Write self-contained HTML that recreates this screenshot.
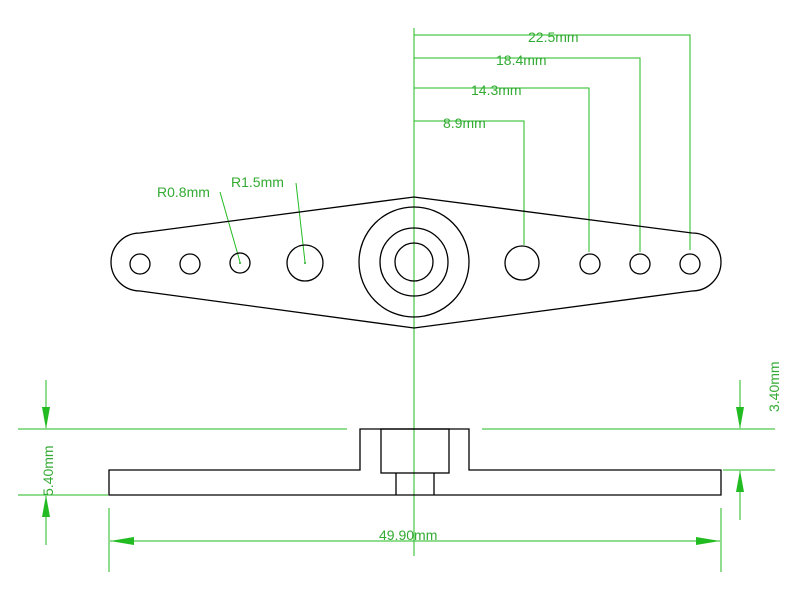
<!DOCTYPE html>
<html><head><style>body{margin:0;background:#fff}svg{display:block}</style></head><body>
<svg width="800" height="593" xmlns="http://www.w3.org/2000/svg" font-family="Liberation Sans, sans-serif">
<rect width="800" height="593" fill="#fff"/>
<g stroke="#22bb22" stroke-width="1" fill="none">
<line x1="414" y1="28" x2="414" y2="556"/>
<polyline points="414,35 690,35 690,250"/>
<polyline points="414,58 640,58 640,252"/>
<polyline points="414,88 589,88 589,252"/>
<polyline points="414,121 524,121 524,245"/>
<polyline points="220,192 240,262"/>
<polyline points="296,183 305,262"/>
<line x1="18" y1="429" x2="347" y2="429"/>
<line x1="482" y1="429" x2="775" y2="429"/>
<line x1="18" y1="495" x2="108" y2="495"/>
<line x1="723" y1="470" x2="775" y2="470"/>
<line x1="46" y1="380" x2="46" y2="428"/>
<line x1="46" y1="496" x2="46" y2="545"/>
<line x1="740" y1="380" x2="740" y2="428"/>
<line x1="740" y1="471" x2="740" y2="520"/>
<line x1="109" y1="508" x2="109" y2="572"/>
<line x1="721" y1="508" x2="721" y2="572"/>
<line x1="110" y1="541" x2="720" y2="541"/>
</g>
<g fill="#22bb22">
<polygon points="46,429 42,407 50,407"/>
<polygon points="46,495 42,517 50,517"/>
<polygon points="740,429 736,407 744,407"/>
<polygon points="740,470 736,492 744,492"/>
<polygon points="110,541 134,537 134,545"/>
<polygon points="720,541 696,537 696,545"/>
</g>
<g fill="#33aa33" font-size="14">
<text x="528" y="42">22.5mm</text>
<text x="496" y="65">18.4mm</text>
<text x="471" y="95">14.3mm</text>
<text x="443" y="128">8.9mm</text>
<text x="157" y="197">R0.8mm</text>
<text x="231" y="187">R1.5mm</text>
<text x="379" y="540">49.90mm</text>
<text transform="translate(53,496) rotate(-90)">5.40mm</text>
<text transform="translate(779,412) rotate(-90)">3.40mm</text>
</g>
<g stroke="#000" stroke-width="1.3" fill="none">
<path d="M140,233 L414,197 L692,233 A29,29 0 0 1 692,291 L414,328 L140,291 A29,29 0 0 1 140,233 Z"/>
<circle cx="414" cy="262" r="55"/>
<circle cx="414" cy="262" r="34"/>
<circle cx="414" cy="262" r="19"/>
<circle cx="140" cy="264" r="10"/>
<circle cx="190" cy="264" r="10"/>
<circle cx="240" cy="263" r="10"/>
<circle cx="305" cy="263" r="18"/>
<circle cx="522" cy="263" r="17"/>
<circle cx="590" cy="264" r="10"/>
<circle cx="640" cy="264" r="10"/>
<circle cx="690" cy="264" r="10"/>
<path d="M109,470 H360 V429 H469 V470 H721 V495 H109 Z"/>
<rect x="381" y="429" width="68" height="44"/>
<path d="M396,473 V495 M434,473 V495"/>
</g>
<circle cx="240" cy="263" r="1" fill="#22aa22"/>
<circle cx="305" cy="263" r="1" fill="#22aa22"/>
</svg>
</body></html>
